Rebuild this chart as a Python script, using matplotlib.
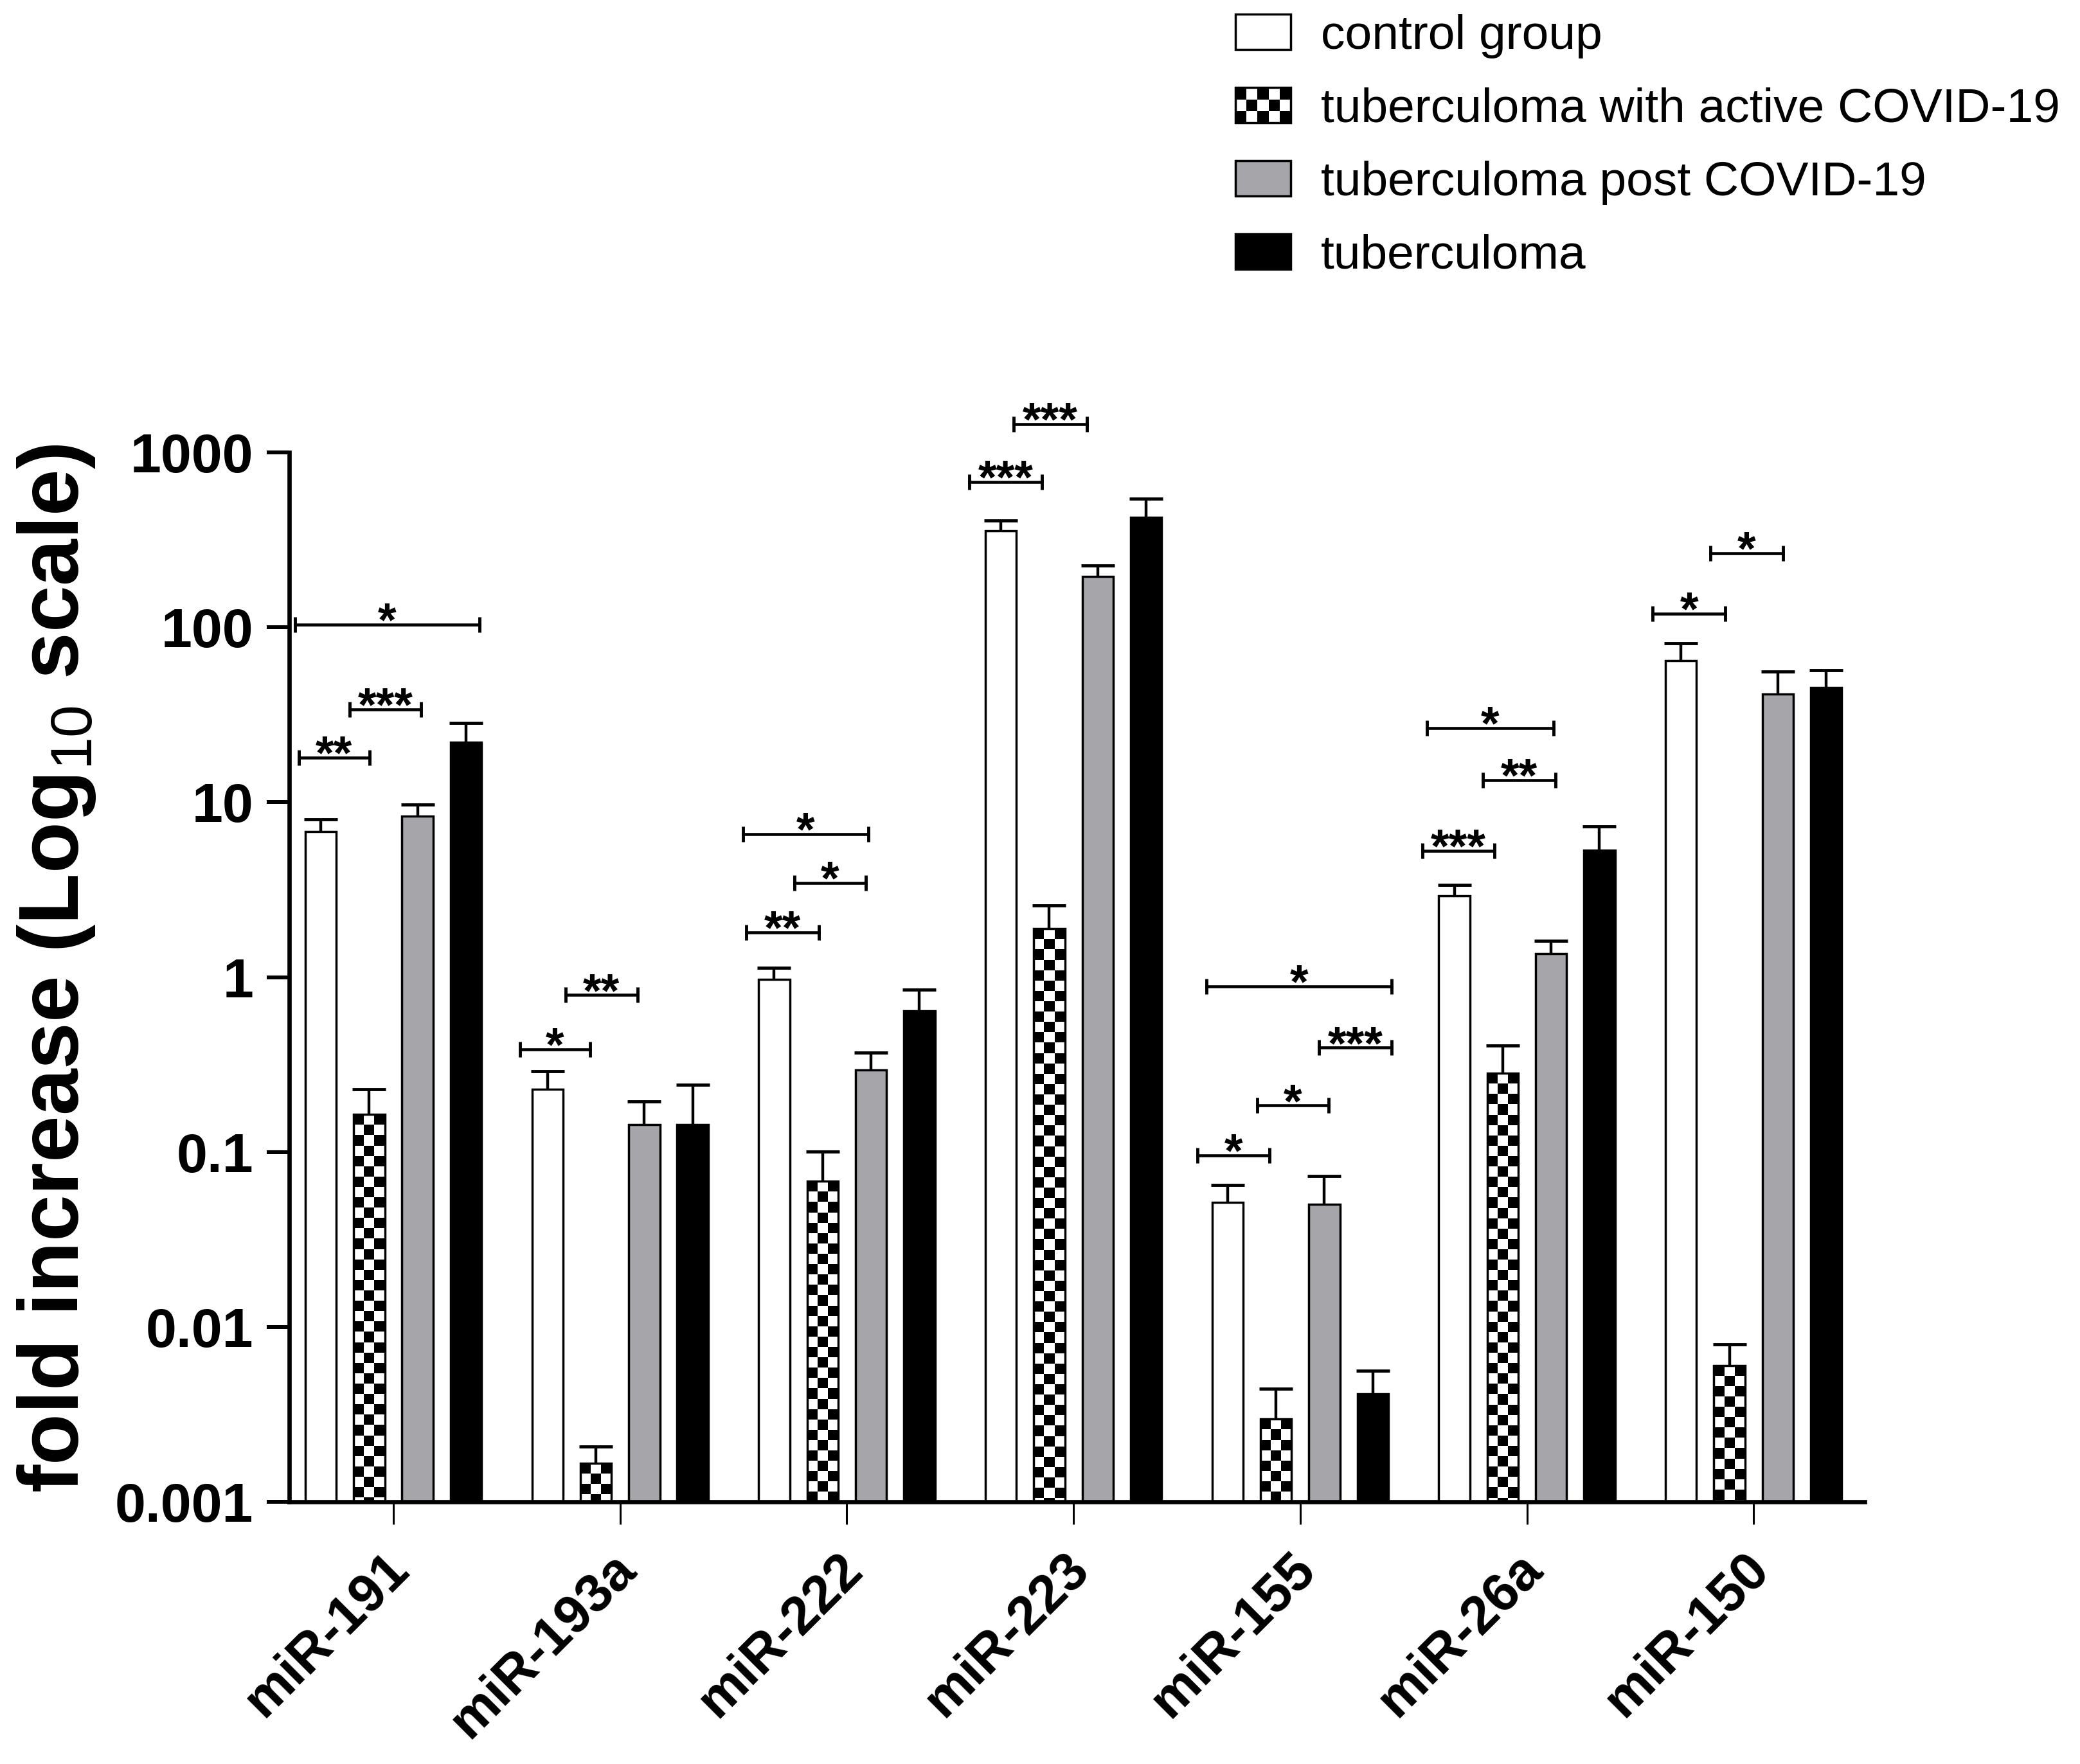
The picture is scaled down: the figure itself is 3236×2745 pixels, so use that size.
import numpy as np
import matplotlib
matplotlib.use("Agg")
import matplotlib.pyplot as plt
from matplotlib.patches import Patch, Rectangle
from matplotlib.collections import PolyCollection
from matplotlib.transforms import IdentityTransform, ScaledTranslation
from matplotlib.legend_handler import HandlerBase
from matplotlib.ticker import NullLocator

plt.rcParams['font.family'] = ['Liberation Sans', 'DejaVu Sans']
plt.rcParams['mathtext.fontset'] = 'custom'
plt.rcParams['mathtext.rm'] = 'Liberation Sans'
plt.rcParams['mathtext.bf'] = 'Liberation Sans:bold'

# ---------------- data ----------------
groups = ['miR-191', 'miR-193a', 'miR-222', 'miR-223', 'miR-155', 'miR-26a', 'miR-150']
series_names = ['control group', 'tuberculoma with active COVID-19',
                'tuberculoma post COVID-19', 'tuberculoma']

control = [6.8, 0.229, 0.968, 356, 0.0517, 2.92, 64.4]
control_sem = [1.2, 0.061, 0.162, 53, 0.0133, 0.45, 16.6]
active = [0.164, 0.00166, 0.068, 1.89, 0.00297, 0.282, 0.00603]
active_sem = [0.065, 0.00041, 0.0325, 0.68, 0.00145, 0.123, 0.00193]
post = [8.3, 0.143, 0.295, 195, 0.0504, 1.36, 41.4]
post_sem = [1.4, 0.051, 0.075, 30, 0.0226, 0.25, 14.6]
tuber = [22.0, 0.144, 0.64, 425, 0.00414, 5.31, 45.2]
tuber_sem = [6.4, 0.098, 0.21, 117, 0.00148, 1.98, 11.8]

ytick_values = [0.001, 0.01, 0.1, 1, 10, 100, 1000]
ytick_labels = ['0.001', '0.01', '0.1', '1', '10', '100', '1000']

# significance brackets: (x start, x end, y level, label)
brackets = [
    (-0.434, 0.380, 104, '*'),
    (-0.193, 0.122, 34, '***'),
    (-0.417, -0.105, 18.0, '**'),
    (0.559, 0.867, 0.386, '*'),
    (0.760, 1.077, 0.79, '**'),
    (1.542, 2.095, 6.57, '*'),
    (1.769, 2.084, 3.46, '*'),
    (1.557, 1.877, 1.80, '**'),
    (2.541, 2.861, 680, '***'),
    (2.736, 3.059, 1455, '***'),
    (3.587, 4.403, 0.885, '*'),
    (4.083, 4.403, 0.395, '***'),
    (3.811, 4.125, 0.1845, '*'),
    (3.547, 3.865, 0.0955, '*'),
    (4.559, 5.118, 26.6, '*'),
    (4.806, 5.126, 13.4, '**'),
    (4.540, 4.857, 5.29, '***'),
    (5.554, 5.876, 119.7, '*'),
    (5.809, 6.130, 266, '*'),
]

# ---------------- style ----------------
GRAY = '#a6a5aa'
EDGE_LW = 2.5
fig = plt.figure(figsize=(32.36, 27.45), dpi=100)
ax = fig.add_axes([0.13906, 0.14863, 0.75742, 0.5949])
ax.set_yscale('log')
ax.set_xlim(-0.4593, 6.4899)
ax.set_ylim(1e-3, 1e3)

x = np.arange(len(groups))
step = 0.2135
width = 0.137
series = [(control, control_sem, 'white'), (active, active_sem, 'white'),
          (post, post_sem, GRAY), (tuber, tuber_sem, 'black')]
bar_sets = []
for i, (vals, sem, fc) in enumerate(series):
    pos = x + (i - 1.5) * step
    bars = ax.bar(pos, vals, width=width, color=fc, edgecolor='black',
                  linewidth=EDGE_LW, zorder=2, label=series_names[i])
    bar_sets.append(bars)
    eb = ax.errorbar(pos, vals, yerr=[np.zeros(len(vals)), sem], fmt='none',
                     ecolor='black', elinewidth=3.2, capsize=18.7, capthick=3.5,
                     zorder=1.5)
    caps = eb.lines[1]
    if len(caps) >= 2:
        caps[0].set_visible(False)

# axes styling
for s in ['top', 'right']:
    ax.spines[s].set_visible(False)
for s in ['left', 'bottom']:
    ax.spines[s].set_linewidth(4.8)
ax.set_yticks(ytick_values)
ax.set_yticklabels(ytick_labels)
ax.yaxis.set_minor_locator(NullLocator())
ax.tick_params(axis='y', which='major', length=25, width=4.3, pad=15,
               labelsize=62)
ax.set_xticks(x)
ax.set_xticklabels(groups, rotation=45, ha='right')
ax.tick_params(axis='x', which='major', length=25, width=2.2, pad=22,
               labelsize=60)
for lab in ax.get_yticklabels() + ax.get_xticklabels():
    lab.set_fontweight('bold')
for lab in ax.get_xticklabels():
    lab.set_transform(lab.get_transform() +
                      ScaledTranslation(28 / 72, 0, fig.dpi_scale_trans))

# checkerboard fill for the active COVID-19 bars (square cells in pixel space)
for bar in bar_sets[1]:
    bx0 = bar.get_x()
    bx1 = bx0 + bar.get_width()
    top = bar.get_y() + bar.get_height()
    px0, ptop = ax.transData.transform((bx0, top))
    px1, _ = ax.transData.transform((bx1, top))
    pbot = ax.bbox.y0
    s = (px1 - px0) / 3.0
    polys = []
    r = 0
    while ptop - r * s > pbot:
        yt = ptop - r * s
        yb = max(yt - s, pbot)
        for c in range(3):
            if (r + c) % 2 == 0:
                polys.append([(px0 + c * s, yb), (px0 + (c + 1) * s, yb),
                              (px0 + (c + 1) * s, yt), (px0 + c * s, yt)])
        r += 1
    pc = PolyCollection(polys, facecolors='black', edgecolors='none',
                        transform=IdentityTransform(), zorder=2.1)
    ax.add_collection(pc, autolim=False)

# significance brackets
for x0, x1, yv, lab in brackets:
    ax.plot([x0, x1], [yv, yv], color='black', lw=3.3, marker='|',
            markersize=17, markeredgewidth=3.5, clip_on=False, zorder=3)
    ax.annotate(lab, xy=((x0 + x1) / 2, yv), xytext=(0, -12.7),
                textcoords='offset points', ha='center', va='baseline',
                fontsize=53, fontweight='bold', annotation_clip=False)

# y label
fig.text(88 / 3236, 1 - 1507 / 2745, r'fold increase (Log$_{\mathrm{10}}$ scale)',
         rotation=90, ha='center', va='center', fontsize=94, fontweight='bold')


# legend with checkerboard handle
class CheckerHandler(HandlerBase):
    def create_artists(self, legend, orig_handle, xdescent, ydescent,
                       width, height, fontsize, trans):
        x0, y0 = -xdescent, -ydescent
        arts = [Rectangle((x0, y0), width, height, facecolor='white',
                          edgecolor='none', transform=trans)]
        ncol, nrow = 5, 3
        cw, ch = width / ncol, height / nrow
        for r in range(nrow):
            for c in range(ncol):
                if (r + c) % 2 == 0:
                    arts.append(Rectangle((x0 + c * cw, y0 + height - (r + 1) * ch),
                                          cw, ch, facecolor='black',
                                          edgecolor='none', transform=trans))
        arts.append(Rectangle((x0, y0), width, height, facecolor='none',
                              edgecolor='black', linewidth=EDGE_LW,
                              transform=trans))
        return arts


h_ctrl = Patch(facecolor='white', edgecolor='black', linewidth=EDGE_LW)
h_act = Patch(facecolor='white', edgecolor='black', linewidth=EDGE_LW)
h_post = Patch(facecolor=GRAY, edgecolor='black', linewidth=EDGE_LW)
h_tb = Patch(facecolor='black', edgecolor='black', linewidth=EDGE_LW)
fig.legend([h_ctrl, h_act, h_post, h_tb], series_names, loc='upper left',
           bbox_to_anchor=(1922 / 3236, 1 - 22 / 2745), frameon=False,
           fontsize=54, handlelength=1.147, handleheight=0.747,
           handletextpad=0.62, labelspacing=0.6, borderpad=0,
           borderaxespad=0, handler_map={h_act: CheckerHandler()})

fig.savefig('out.png', dpi=100)
